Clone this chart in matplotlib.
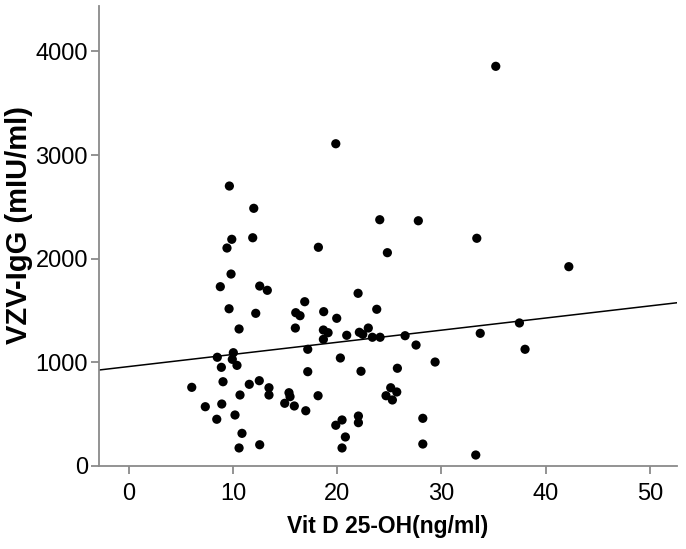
import matplotlib
matplotlib.use("Agg")
import matplotlib.pyplot as plt
import numpy as np

plt.rcParams['font.family'] = ['Liberation Sans', 'DejaVu Sans']

# Vit D 25-OH (ng/ml)
vitd = [9.65, 11.99, 9.88, 11.89, 9.42, 18.19, 9.81, 8.78, 12.56, 13.29,
        16.88, 9.62, 12.18, 16.02, 16.43, 18.70, 19.95, 10.58, 15.98, 18.67,
        19.12, 20.91, 18.67, 8.49, 10.03, 9.93, 10.38, 17.17, 20.30, 8.88,
        17.17, 9.04, 12.52, 11.56, 6.04, 13.45, 13.45, 10.67, 15.37, 15.47,
        18.16, 14.96, 15.88, 7.34, 8.92, 16.98, 8.44, 10.19, 20.46, 19.86,
        10.86, 20.78, 10.58, 12.56, 20.46, 24.08, 27.78, 33.39, 24.81, 22.00,
        23.79, 22.12, 22.45, 22.98, 23.37, 24.11, 26.51, 27.56, 33.72, 22.28,
        25.77, 29.39, 25.13, 25.71, 24.68, 25.29, 22.03, 22.03, 28.21, 28.21,
        33.29, 35.21, 42.22, 19.86, 37.48, 38.02]

# VZV-IgG (mIU/ml)
vzv = [2701, 2486, 2187, 2202, 2103, 2110, 1852, 1730, 1736, 1695,
       1585, 1517, 1473, 1479, 1450, 1489, 1425, 1322, 1331, 1312,
       1286, 1261, 1222, 1049, 1093, 1029, 971, 1126, 1042, 952,
       910, 813, 823, 788, 759, 755, 685, 685, 707, 669,
       678, 605, 579, 572, 598, 533, 451, 492, 444, 393,
       315, 280, 174, 205, 174, 2376, 2366, 2197, 2058, 1666,
       1512, 1290, 1270, 1331, 1242, 1242, 1257, 1167, 1280, 914,
       943, 1003, 755, 714, 678, 637, 482, 418, 460, 212,
       106, 3856, 1923, 3109, 1380, 1126]

# linear fit line
fit_intercept = 959.5
fit_slope = 11.7

x_ticks = [0, 10, 20, 30, 40, 50]
y_ticks = [0, 1000, 2000, 3000, 4000]
x_label = "Vit D 25-OH(ng/ml)"
y_label = "VZV-IgG (mIU/ml)"

fig = plt.figure(figsize=(6.86, 5.49), dpi=100)
ax = fig.add_axes([99/686, 1-466/549, (677-99)/686, (466-6.3)/549])

xmin, xmax = -2.86, 52.6
ax.set_xlim(xmin, xmax)
ax.set_ylim(0, 4435)

ax.scatter(vitd, vzv, s=44, color='black', edgecolors='none', zorder=3)
xl = np.array([xmin, xmax])
ax.plot(xl, fit_intercept + fit_slope * xl, color='black', lw=1.1, zorder=2)

for side in ['top', 'right']:
    ax.spines[side].set_visible(False)
for side in ['left', 'bottom']:
    ax.spines[side].set_color('#8a8a8a')
    ax.spines[side].set_linewidth(1.3)

ax.set_xticks(x_ticks)
ax.set_yticks(y_ticks)
ax.tick_params(axis='both', colors='#8a8a8a', length=6, width=1.3,
               labelcolor='black', labelsize=17)
ax.tick_params(axis='x', pad=6)
ax.tick_params(axis='y', pad=2)

ax.set_xlabel(x_label, fontsize=16.5, fontweight='bold')
ax.set_ylabel(y_label, fontsize=21, fontweight='bold')
ax.xaxis.set_label_coords(0.5, -(527 - 466) / 459.7, transform=ax.transAxes)
ax.xaxis.label.set_va('center')
ax.yaxis.set_label_coords((19 - 99) / 578, (466 - 225) / 459.7)
ax.yaxis.label.set_va('center')

fig.savefig("out.png", dpi=100, facecolor='white')
